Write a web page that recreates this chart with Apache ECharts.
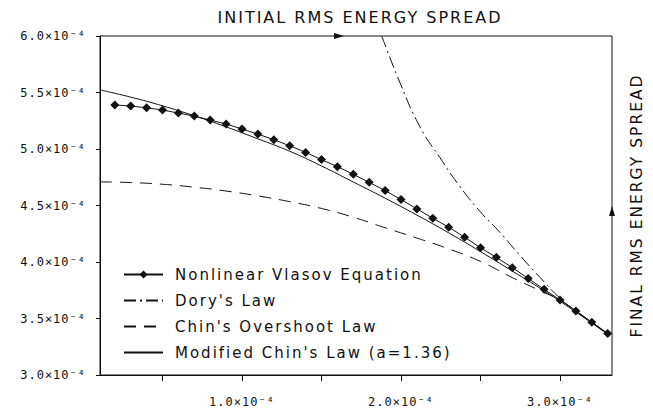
<!DOCTYPE html>
<html>
<head>
<meta charset="utf-8">
<script src="https://cdn.jsdelivr.net/npm/echarts@6/dist/echarts.min.js"></script>
<style>
  html, body { margin: 0; padding: 0; background: #fff; }
  #chart { width: 653px; height: 413px; }
  #chart svg text { letter-spacing: 2px !important; }
  #chart svg text[style*="Mono"] { letter-spacing: 1px !important; }
</style>
</head>
<body>
<div id="chart"></div>
<script>
// All values in units of 1e-4
const xVlasov = [0.2,0.3,0.4,0.5,0.6,0.7,0.8,0.9,1.0,1.1,1.2,1.3,1.4,1.5,1.6,1.7,1.8,1.9,2.0,2.1,2.2,2.3,2.4,2.5,2.6,2.7,2.8,2.9,3.0,3.1,3.2,3.3];
const yVlasov = [5.39,5.38,5.365,5.345,5.318,5.291,5.256,5.221,5.177,5.132,5.082,5.029,4.970,4.906,4.844,4.776,4.705,4.632,4.553,4.470,4.387,4.308,4.220,4.126,4.041,3.950,3.855,3.758,3.664,3.567,3.467,3.367];

const xDory = [1.879,1.994,2.119,2.245,2.371,2.497,2.623,2.748,2.874,3.0,3.1,3.2,3.3];
const yDory = [6.000,5.585,5.197,4.923,4.667,4.447,4.261,4.058,3.864,3.679,3.567,3.467,3.367];

const xOvershoot = [0.107,0.3,0.5,0.7,0.9,1.1,1.3,1.5,1.7,1.9,2.1,2.3,2.5,2.7,2.9,3.0,3.1,3.2,3.3];
const yOvershoot = [4.709,4.703,4.688,4.662,4.628,4.585,4.534,4.474,4.396,4.303,4.212,4.116,4.005,3.862,3.730,3.664,3.567,3.467,3.367];

const xModified = [0.107,0.3,0.5,0.7,0.9,1.1,1.3,1.5,1.7,1.9,2.1,2.3,2.5,2.7,2.9,3.1,3.3];
const yModified = [5.523,5.459,5.382,5.294,5.196,5.090,4.980,4.850,4.708,4.565,4.415,4.258,4.092,3.920,3.745,3.557,3.360];

const seriesNames = ['Nonlinear Vlasov Equation', "Dory's Law", "Chin's Overshoot Law", "Modified Chin's Law (a=1.36)"];
const xTickValues = [0.5,1.0,1.5,2.0,2.5,3.0];
const xLabelValues = [1.0,2.0,3.0];
const xTitle = 'INITIAL RMS ENERGY SPREAD';
const yTitle = 'FINAL RMS ENERGY SPREAD';

const zip = (xs, ys) => xs.map((x, i) => [x, ys[i]]);
const fmt = v => v.toFixed(1) + '×10⁻⁴';

const chart = echarts.init(document.getElementById('chart'), null, {renderer: 'svg'});
const sansFont = 'DejaVu Sans';
const monoFont = 'DejaVu Sans Mono';
const ink = '#111';

// curve series: no visible symbols (legend shows only the line)
const curve = (name, xs, ys, dash) => ({
  name, type: 'line', data: zip(xs, ys),
  symbol: 'circle', showSymbol: false, smooth: 0.5,
  itemStyle: { color: ink, opacity: 0 },
  lineStyle: { color: ink, width: 1, type: dash },
  emphasis: { disabled: true }
});

chart.setOption({
  animation: false,
  backgroundColor: '#fff',
  title: {
    text: xTitle,
    left: 355, top: 4,
    textAlign: 'center',
    textStyle: { fontFamily: sansFont, fontSize: 16, fontWeight: 'normal', color: ink }
  },
  grid: { left: 100, right: 41, top: 36, bottom: 38, show: true, borderColor: ink, borderWidth: 1, backgroundColor: 'transparent' },
  legend: {
    orient: 'vertical',
    left: 118, top: 262,
    itemWidth: 39, itemHeight: 10, itemGap: 11,
    data: seriesNames,
    textStyle: { fontFamily: sansFont, fontSize: 15, color: ink, padding: [0,0,0,7] }
  },
  xAxis: {
    type: 'value', min: 0.107, max: 3.327,
    axisLine: { lineStyle: { color: ink, width: 1 } },
    axisTick: { show: true, length: 6, inside: false, customValues: xTickValues, lineStyle: { color: ink } },
    axisLabel: { customValues: xLabelValues, formatter: fmt, margin: 21, fontFamily: monoFont, fontSize: 12, color: ink },
    splitLine: { show: false }
  },
  yAxis: [{
    type: 'value', min: 3.0, max: 6.0, interval: 0.5,
    axisLine: { show: true, lineStyle: { color: ink, width: 1 } },
    axisTick: { show: true, length: 4, lineStyle: { color: ink } },
    axisLabel: { formatter: fmt, margin: 14, fontFamily: monoFont, fontSize: 12, color: ink },
    splitLine: { show: false }
  }, {
    type: 'value', min: 3.0, max: 6.0, position: 'right',
    name: yTitle, nameLocation: 'middle', nameRotate: 90, nameGap: 17,
    nameTextStyle: { fontFamily: sansFont, fontSize: 15.5, color: ink },
    axisLine: { show: false }, axisTick: { show: false }, axisLabel: { show: false }, splitLine: { show: false }
  }],
  series: [
    {
      name: seriesNames[0], type: 'line', data: zip(xVlasov, yVlasov),
      symbol: 'diamond', symbolSize: 9, showSymbol: true,
      itemStyle: { color: ink },
      lineStyle: { color: ink, width: 1 },
      z: 5
    },
    curve(seriesNames[1], xDory, yDory, [12, 4, 2, 4]),
    curve(seriesNames[2], xOvershoot, yOvershoot, [12, 8]),
    curve(seriesNames[3], xModified, yModified, 'solid')
  ],
  graphic: [
    { type: 'polygon', shape: { points: [[334,33],[344,36],[334,39]] }, style: { fill: ink }, z: 10 },
    { type: 'polygon', shape: { points: [[609,216],[612,206],[615,216]] }, style: { fill: ink }, z: 10 }
  ]
});
</script>
</body>
</html>
